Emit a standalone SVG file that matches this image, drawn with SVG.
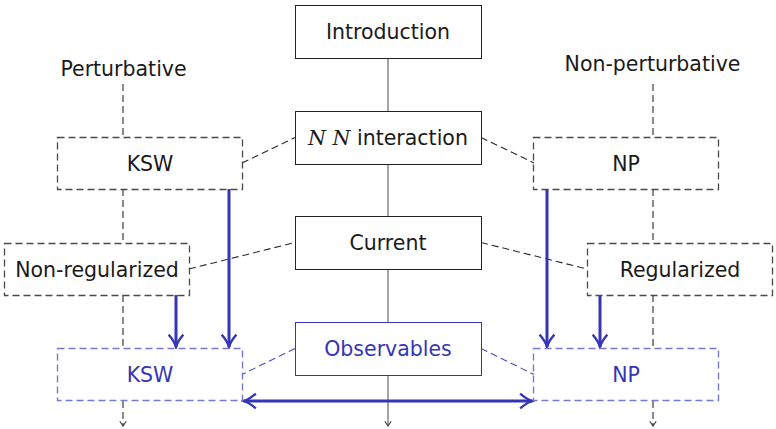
<svg xmlns="http://www.w3.org/2000/svg" width="776" height="429" viewBox="0 0 776 429">
<defs>
<style>
text{font-family:"DejaVu Sans","Liberation Sans",sans-serif;font-size:20.5px;text-anchor:middle;fill:#1a1a1a}
.blue{fill:#3535b5}
.box{fill:#fff;stroke:#222;stroke-width:1}
.obox{fill:#fff;stroke:#3535b5;stroke-width:1}
.dbox{fill:none;stroke:#4a4a4a;stroke-width:1.3;stroke-dasharray:7,4}
.bdbox{fill:none;stroke:#7878d2;stroke-width:1.4;stroke-dasharray:7,4}
.dl{fill:none;stroke:#2a2a2a;stroke-width:1.1;stroke-dasharray:7,4}
.bdl{fill:none;stroke:#4a4abf;stroke-width:1.1;stroke-dasharray:7,4}
.solid{fill:none;stroke:#666;stroke-width:1.2}
.barr{fill:none;stroke:#3535b5;stroke-width:3}
</style>
<marker id="small" viewBox="0 0 10 10" refX="8" refY="5" markerWidth="8" markerHeight="8" markerUnits="userSpaceOnUse" orient="auto">
<path d="M2,1 L8,5 L2,9" fill="none" stroke="#333" stroke-width="1.3"/>
</marker>
<marker id="barrow" viewBox="0 0 10 10" refX="8.5" refY="5" markerWidth="5.5" markerHeight="5.5" orient="auto-start-reverse">
<path d="M1,0.5 Q5,4 8.5,5 Q5,6 1,9.5" fill="none" stroke="#3535b5" stroke-width="1.4"/>
</marker>
</defs>
<g id="connectors">
<line class="solid" x1="388" y1="58" x2="388" y2="111"/>
<line class="solid" x1="388" y1="164" x2="388" y2="216"/>
<line class="solid" x1="388" y1="269" x2="388" y2="322"/>
<line class="solid" x1="388" y1="375" x2="388" y2="426" marker-end="url(#small)"/>
<line class="dl" x1="123" y1="84" x2="123" y2="137"/>
<line class="dl" x1="123" y1="189" x2="123" y2="243"/>
<line class="dl" x1="123" y1="295" x2="123" y2="348"/>
<line class="dl" x1="123" y1="401" x2="123" y2="426" marker-end="url(#small)"/>
<line class="dl" x1="653" y1="84" x2="653" y2="137"/>
<line class="dl" x1="653" y1="189" x2="653" y2="243"/>
<line class="dl" x1="653" y1="295" x2="653" y2="348"/>
<line class="dl" x1="653" y1="401" x2="653" y2="426" marker-end="url(#small)"/>
<line class="dl" x1="242" y1="163" x2="295" y2="137.5"/>
<line class="dl" x1="189" y1="269" x2="295" y2="242.5"/>
<line class="bdl" x1="295" y1="348.5" x2="242" y2="374.5"/>
<line class="dl" x1="481" y1="137.5" x2="534" y2="163"/>
<line class="dl" x1="481" y1="242.5" x2="587" y2="269"/>
<line class="bdl" x1="481" y1="348.5" x2="534" y2="374.5"/>
<line class="barr" x1="229" y1="189" x2="229" y2="347" marker-end="url(#barrow)"/>
<line class="barr" x1="176" y1="295" x2="176" y2="347" marker-end="url(#barrow)"/>
<line class="barr" x1="547" y1="189" x2="547" y2="347" marker-end="url(#barrow)"/>
<line class="barr" x1="600" y1="295" x2="600" y2="347" marker-end="url(#barrow)"/>
<line class="barr" x1="243.5" y1="401" x2="532.5" y2="401" marker-start="url(#barrow)" marker-end="url(#barrow)"/>
</g>
<g id="introduction">
<rect class="box" x="295.5" y="5.5" width="186" height="53"/>
<text x="388" y="39">Introduction</text>
</g>
<g id="nn-interaction">
<rect class="box" x="295.5" y="111.5" width="186" height="53"/>
<text x="388" y="145"><tspan font-family="'DejaVu Serif','Liberation Serif',serif" font-style="italic">N N</tspan> interaction</text>
</g>
<g id="current">
<rect class="box" x="295.5" y="216.5" width="186" height="53"/>
<text x="388" y="250">Current</text>
</g>
<g id="observables">
<rect class="obox" x="295.5" y="322.5" width="186" height="53"/>
<text class="blue" x="388" y="356">Observables</text>
</g>
<g id="perturbative">
<text x="123.5" y="76">Perturbative</text>
</g>
<g id="non-perturbative">
<text x="652.5" y="71">Non-perturbative</text>
</g>
<g id="ksw">
<rect class="dbox" x="57.5" y="137.5" width="185" height="52"/>
<text x="150" y="171">KSW</text>
</g>
<g id="non-regularized">
<rect class="dbox" x="4.5" y="243.5" width="185" height="52"/>
<text x="97" y="277">Non-regularized</text>
</g>
<g id="ksw-obs">
<rect class="bdbox" x="57.5" y="348.5" width="185" height="52"/>
<text class="blue" x="150" y="382">KSW</text>
</g>
<g id="np">
<rect class="dbox" x="533.5" y="137.5" width="185" height="52"/>
<text x="626" y="171">NP</text>
</g>
<g id="regularized">
<rect class="dbox" x="587.5" y="243.5" width="185" height="52"/>
<text x="680" y="277">Regularized</text>
</g>
<g id="np-obs">
<rect class="bdbox" x="533.5" y="348.5" width="185" height="52"/>
<text class="blue" x="626" y="382">NP</text>
</g>
</svg>
